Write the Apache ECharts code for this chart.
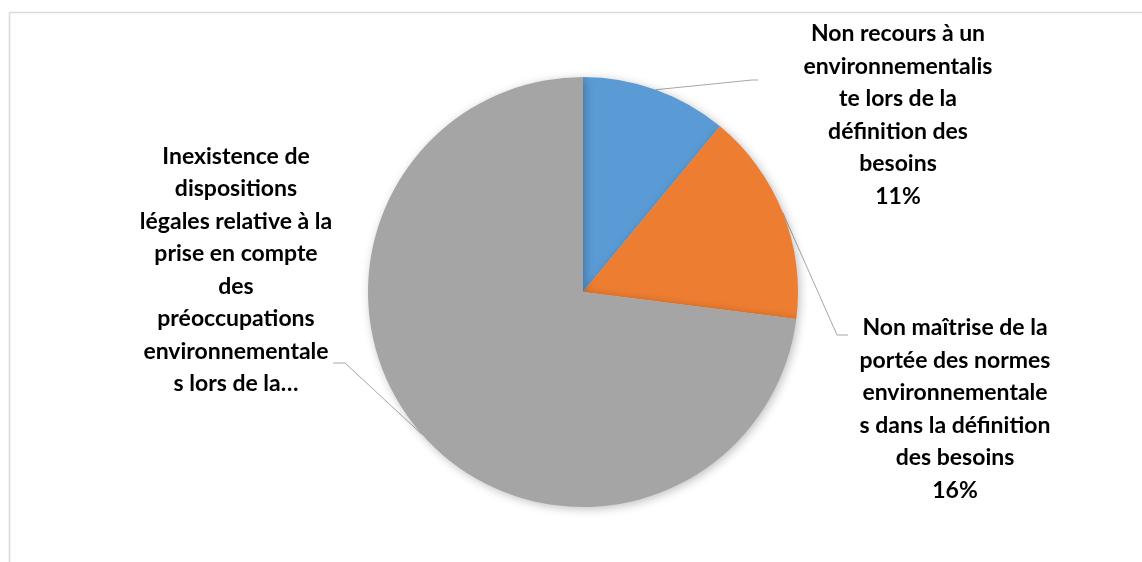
<!DOCTYPE html>
<html>
<head>
<meta charset="utf-8">
<script src="https://cdn.jsdelivr.net/npm/echarts@6/dist/echarts.min.js"></script>
<style>
html,body{margin:0;padding:0;background:#fff;}
#chart{width:1142px;height:562px;}
</style>
</head>
<body>
<div id="chart"></div>
<script>
const categories = [
  "Non recours à un environnementaliste lors de la définition des besoins",
  "Non maîtrise de la portée des normes environnementales dans la définition des besoins",
  "Inexistence de dispositions légales relative à la prise en compte des préoccupations environnementales lors de la définition des besoins"
];
const values = [11, 16, 73];
const labelTexts = [
  "Non recours à un\nenvironnementalis\nte lors de la\ndéfinition des\nbesoins\n11%",
  "Non maîtrise de la\nportée des normes\nenvironnementale\ns dans la définition\ndes besoins\n16%",
  "Inexistence de\ndispositions\nlégales relative à la\nprise en compte\ndes\npréoccupations\nenvironnementale\ns lors de la…"
];
const colors = ["#5B9BD5", "#ED7D31", "#A5A5A5"];

// layout (not data)
const CENTER = [583, 292];
const RADIUS = 215;
const labelCenters = [[898, 115], [955, 409], [236, 270]];
const lineBends = [[[752, 80], [758, 80]], [[837, 335], [848, 335]], [[345, 363], [333, 363]]];

const total = values.reduce((a, b) => a + b, 0);
function edgePoint(i) {
  let before = 0;
  for (let k = 0; k < i; k++) before += values[k];
  const frac = (before + values[i] / 2) / total;
  const ang = frac * 2 * Math.PI; // clockwise from top
  return [CENTER[0] + RADIUS * Math.sin(ang), CENTER[1] - RADIUS * Math.cos(ang)];
}

const chart = echarts.init(document.getElementById('chart'));
chart.setOption({
  animation: false,
  graphic: [
    { type: 'line', shape: { x1: 9.5, y1: 12.5, x2: 1142, y2: 12.5 }, style: { stroke: '#d9d9d9', lineWidth: 1.5 } },
    { type: 'line', shape: { x1: 9.5, y1: 12.5, x2: 9.5, y2: 562 }, style: { stroke: '#d9d9d9', lineWidth: 1.5 } }
  ],
  series: [{
    type: 'pie',
    center: CENTER,
    radius: RADIUS,
    startAngle: 90,
    clockwise: true,
    itemStyle: {
      borderWidth: 0,
      shadowBlur: 10,
      shadowColor: 'rgba(0,0,0,0.25)',
      shadowOffsetX: 2,
      shadowOffsetY: 2
    },
    label: {
      show: true,
      formatter: p => labelTexts[p.dataIndex],
      fontFamily: 'Lato',
      fontWeight: 'bold',
      fontSize: 23,
      lineHeight: 32.5,
      color: '#000',
      align: 'center'
    },
    labelLine: {
      show: true,
      lineStyle: { color: '#a6a6a6', width: 1 }
    },
    labelLayout: function (params) {
      const i = params.dataIndex;
      const c = labelCenters[i];
      return {
        x: c[0], y: c[1], align: 'center', verticalAlign: 'middle',
        labelLinePoints: [edgePoint(i), lineBends[i][0], lineBends[i][1]]
      };
    },
    data: categories.map((n, i) => ({ name: n, value: values[i], itemStyle: { color: colors[i] } }))
  }]
});
</script>
</body>
</html>
